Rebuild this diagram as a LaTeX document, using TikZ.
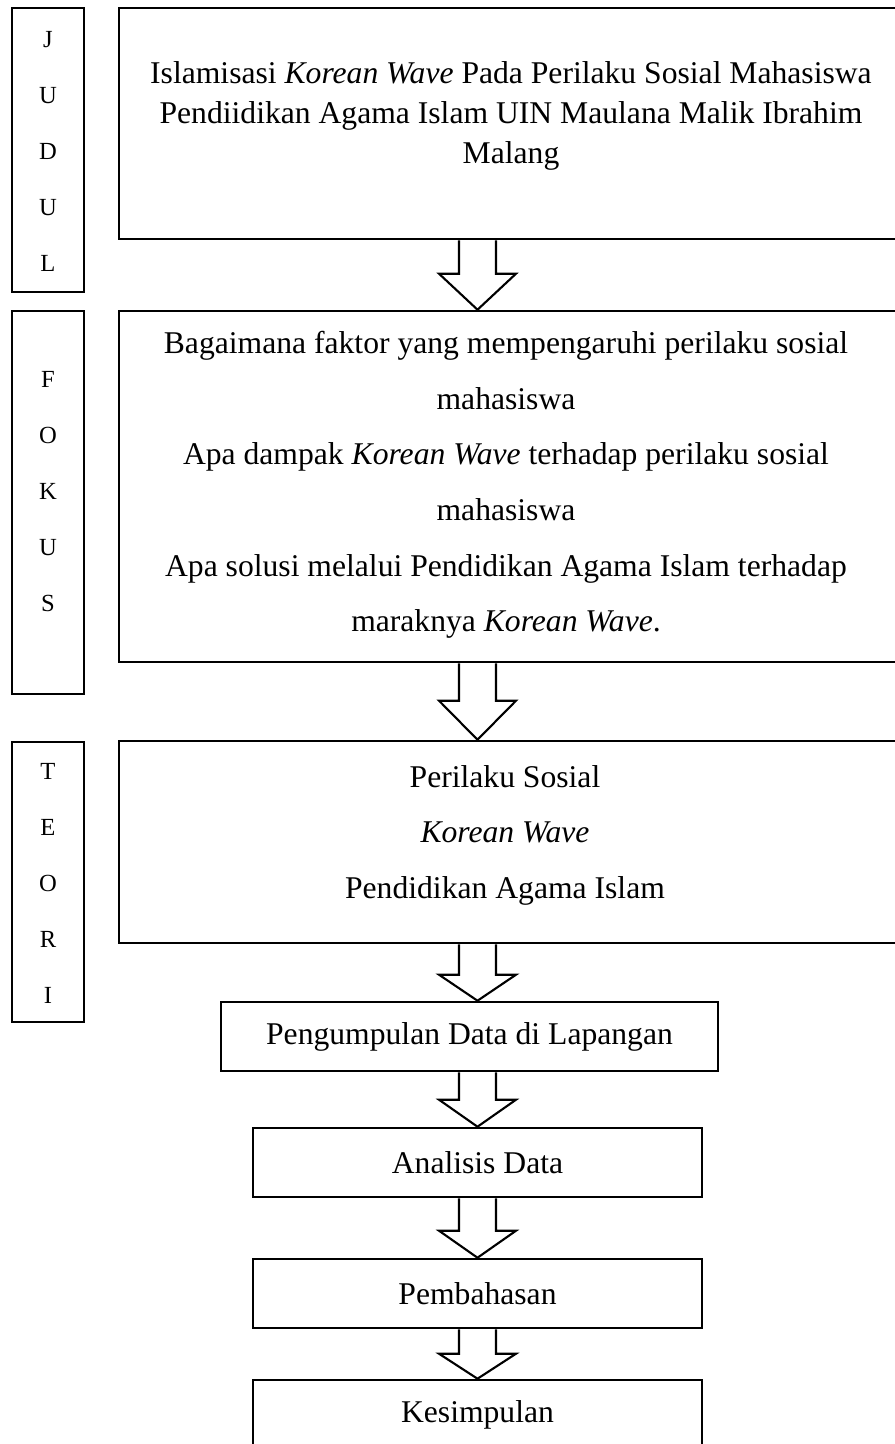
\documentclass[tikz,border=0pt]{standalone}
\usepackage{fontspec}
\setmainfont{Liberation Serif}
\usepackage{tikz}
\usetikzlibrary{calc}

\begin{document}
\begin{tikzpicture}[x=0.03cm,y=-0.03cm,
box/.style={draw,line width=2.2pt,inner sep=0pt},
txt/.style={font=\fontsize{27}{34}\selectfont,align=center},
list/.style={font=\fontsize{27}{47.4}\selectfont,align=center},
letters/.style={font=\fontsize{21}{47.8}\selectfont,align=center},
hollow/.style={line width=1.8pt,line join=miter}]
\useasboundingbox(0,0)rectangle(895,1444);
\clip(0,0)rectangle(895,1444);
\coordinate (ax) at (477.5,0);
\node[box,minimum width=2.16cm,minimum height=8.52cm](judulside) at (48,150){};
\node[box,minimum width=2.16cm,minimum height=11.49cm](fokusside) at (48,502.5){};
\node[box,minimum width=2.16cm,minimum height=8.4cm](teoriside) at (48,882){};
\node[letters](judulhuruf) at (48,151){J\\U\\D\\U\\L};
\node[letters](fokushuruf) at (48,492){F\\O\\K\\U\\S};
\node[letters](teorihuruf) at (48,883){T\\E\\O\\R\\I};
\node[box,minimum width=23.43cm,minimum height=6.93cm](judul) at (509.5,123.5){};
\node[box,minimum width=23.43cm,minimum height=10.53cm](fokus) at (509.5,486.5){};
\node[box,minimum width=23.43cm,minimum height=6.06cm](teori) at (509.5,842){};
\node[txt](judultxt) at (511,116){Islamisasi \textit{Korean Wave} Pada Perilaku Sosial Mahasiswa\\Pendiidikan Agama Islam UIN Maulana Malik Ibrahim\\Malang};
\node[list](fokustxt) at (506,485){Bagaimana faktor yang mempengaruhi perilaku sosial\\mahasiswa\\Apa dampak \textit{Korean Wave} terhadap perilaku sosial\\mahasiswa\\Apa solusi melalui Pendidikan Agama Islam terhadap\\maraknya \textit{Korean Wave}.};
\node[list](teoritxt) at (505,835){Perilaku Sosial\\\textit{Korean Wave}\\Pendidikan Agama Islam};
\node[box,txt,minimum width=14.91cm,minimum height=2.07cm](kumpul) at (469.5,1036.5){Pengumpulan Data di Lapangan};
\node[box,txt,minimum width=13.47cm,minimum height=2.07cm](analisis) at (477.5,1162.5){Analisis Data};
\node[box,txt,minimum width=13.47cm,minimum height=2.07cm](bahas) at (477.5,1293.5){Pembahasan};
\node[box,txt,minimum width=13.47cm,minimum height=2.07cm](simpul) at (477.5,1414.5){Kesimpulan};
\draw[hollow]($(judul.south-|ax)+(-18.5,0)$)--($(fokus.north-|ax)+(-18.5,-36)$)--++(-20,0)--(fokus.north-|ax)--++(38.5,-36)--++(-20,0)--($(judul.south-|ax)+(18.5,0)$);
\draw[hollow]($(fokus.south-|ax)+(-18.5,0)$)--($(teori.north-|ax)+(-18.5,-39)$)--++(-20,0)--(teori.north-|ax)--++(38.5,-39)--++(-20,0)--($(fokus.south-|ax)+(18.5,0)$);
\draw[hollow]($(teori.south-|ax)+(-18.5,0)$)--($(kumpul.north-|ax)+(-18.5,-26)$)--++(-20,0)--(kumpul.north-|ax)--++(38.5,-26)--++(-20,0)--($(teori.south-|ax)+(18.5,0)$);
\draw[hollow]($(kumpul.south-|ax)+(-18.5,0)$)--($(analisis.north-|ax)+(-18.5,-27)$)--++(-20,0)--(analisis.north-|ax)--++(38.5,-27)--++(-20,0)--($(kumpul.south-|ax)+(18.5,0)$);
\draw[hollow]($(analisis.south-|ax)+(-18.5,0)$)--($(bahas.north-|ax)+(-18.5,-27)$)--++(-20,0)--(bahas.north-|ax)--++(38.5,-27)--++(-20,0)--($(analisis.south-|ax)+(18.5,0)$);
\draw[hollow]($(bahas.south-|ax)+(-18.5,0)$)--($(simpul.north-|ax)+(-18.5,-25)$)--++(-20,0)--(simpul.north-|ax)--++(38.5,-25)--++(-20,0)--($(bahas.south-|ax)+(18.5,0)$);
\end{tikzpicture}
\end{document}
